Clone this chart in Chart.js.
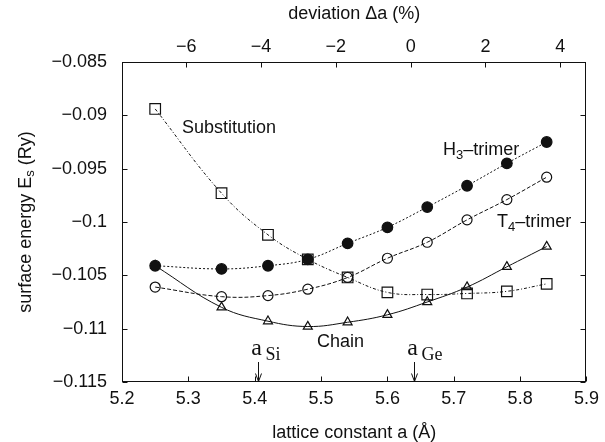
<!DOCTYPE html>
<html>
<head>
<meta charset="utf-8">
<script src="https://cdn.jsdelivr.net/npm/chart.js@4.4.1/dist/chart.umd.min.js"></script>
<style>
  html, body { margin: 0; padding: 0; background: #fff; }
  #wrap { position: relative; width: 605px; height: 442px; }
</style>
</head>
<body>
<div id="wrap"><canvas id="energyChart"></canvas></div>
<script>
// lattice constants (Å) of the calculated points
const latticeA = [5.25, 5.35, 5.42, 5.48, 5.54, 5.60, 5.66, 5.72, 5.78, 5.84];

// surface energies (Ry)
const substitution = [-0.0894, -0.0973, -0.1012, -0.1035, -0.1052, -0.1066, -0.1068, -0.1067, -0.1065, -0.1058];
const h3Trimer     = [-0.1041, -0.1044, -0.1041, -0.1035, -0.1020, -0.1005, -0.0986, -0.0966, -0.0945, -0.0925];
const t4Trimer     = [-0.1061, -0.1070, -0.1069, -0.1063, -0.1052, -0.1034, -0.1019, -0.0998, -0.0979, -0.0958];
const chain        = [-0.1041, -0.1080, -0.1093, -0.1098, -0.1094, -0.1087, -0.1075, -0.1061, -0.1042, -0.1023];

// marked lattice constants and reference for the deviation axis
const aSi = 5.405;
const aGe = 5.64;
const aRef = 5.635;

const SANS = "'Liberation Sans', Arial, sans-serif";
const SERIF = "'Liberation Serif', 'Times New Roman', serif";
const INK = '#111';

Chart.defaults.font.family = SANS;
Chart.defaults.font.size = 18;
Chart.defaults.color = INK;

function series(label, values, style, radius, filled, dash) {
    return {
        label: label,
        data: latticeA.map((a, i) => ({ x: a, y: values[i] })),
        borderColor: INK,
        borderWidth: 1,
        borderDash: dash,
        fill: false,
        tension: 0.4,
        pointStyle: style,
        pointRadius: radius,
        pointHoverRadius: radius,
        pointBorderWidth: 1.2,
        pointBorderColor: INK,
        pointBackgroundColor: filled ? INK : 'rgba(0,0,0,0)'
    };
}

const minus = s => String(s).replace('-', '\u2212');

// text with a subscript in the middle
function subText(ctx, x, y, base, sub, rest, size, subSize, drop) {
    ctx.font = size + 'px ' + SANS;
    ctx.fillText(base, x, y);
    x += ctx.measureText(base).width;
    ctx.font = subSize + 'px ' + SANS;
    ctx.fillText(sub, x, y + drop);
    x += ctx.measureText(sub).width;
    ctx.font = size + 'px ' + SANS;
    ctx.fillText(rest, x, y);
}

const decor = {
    id: 'decor',
    afterDraw(chart) {
        const { ctx, chartArea: ca, scales } = chart;
        const xs = scales.x, x2 = scales.x2, ys = scales.y;
        ctx.save();
        ctx.strokeStyle = INK;
        ctx.fillStyle = INK;
        ctx.lineWidth = 1;

        // frame
        const L = Math.round(ca.left) + 0.5, R = Math.round(ca.right) - 0.5;
        const T = Math.round(ca.top) + 0.5, B = Math.round(ca.bottom) - 0.5;
        ctx.strokeRect(L, T, R - L, B - T);

        // inward tick marks
        const tl = 5;
        ctx.beginPath();
        xs.ticks.forEach(t => {
            const p = Math.round(xs.getPixelForValue(t.value)) + 0.5;
            ctx.moveTo(p, B); ctx.lineTo(p, B - tl);
        });
        x2.ticks.forEach(t => {
            const p = Math.round(x2.getPixelForValue(t.value)) + 0.5;
            ctx.moveTo(p, T); ctx.lineTo(p, T + tl);
        });
        ys.ticks.forEach(t => {
            const p = Math.round(ys.getPixelForValue(t.value)) + 0.5;
            ctx.moveTo(L, p); ctx.lineTo(L + tl, p);
            ctx.moveTo(R, p); ctx.lineTo(R - tl, p);
        });
        ctx.stroke();

        // curve labels
        ctx.textAlign = 'left';
        ctx.textBaseline = 'alphabetic';
        ctx.font = '18px ' + SANS;
        ctx.fillText('Substitution', 182, 133);
        ctx.fillText('Chain', 317, 347);
        subText(ctx, 443, 155, 'H', '3', '\u2013trimer', 18, 13, 4);
        subText(ctx, 497, 227, 'T', '4', '\u2013trimer', 18, 13, 4);

        // lattice constant markers
        [[aSi, 'Si'], [aGe, 'Ge']].forEach(([a, el]) => {
            const px = Math.round(xs.getPixelForValue(a)) + 0.5;
            ctx.font = '24px ' + SERIF;
            ctx.textAlign = 'center';
            ctx.fillText('a', px - 2, 355);
            ctx.font = '18px ' + SERIF;
            ctx.textAlign = 'left';
            ctx.fillText(el, px + 7, 360);
            ctx.beginPath();
            ctx.moveTo(px, 362); ctx.lineTo(px, B);
            ctx.moveTo(px - 3, B - 8); ctx.lineTo(px, B); ctx.lineTo(px + 3, B - 8);
            ctx.stroke();
        });

        // y axis title with subscript
        ctx.save();
        ctx.translate(26, (ca.top + ca.bottom) / 2);
        ctx.rotate(-Math.PI / 2);
        ctx.textBaseline = 'middle';
        ctx.font = '18px ' + SANS;
        const p1 = 'surface energy E', p3 = ' (Ry)';
        const w1 = ctx.measureText(p1).width, w3 = ctx.measureText(p3).width;
        ctx.font = '13px ' + SANS;
        const w2 = ctx.measureText('s').width;
        const x0 = -(w1 + w2 + w3) / 2;
        ctx.textAlign = 'left';
        subText(ctx, x0, 0, p1, 's', p3, 18, 13, 4);
        ctx.restore();

        ctx.restore();
    }
};

const ctx = document.getElementById('energyChart').getContext('2d');
new Chart(ctx, {
    type: 'line',
    data: {
        datasets: [
            series('H3-trimer', h3Trimer, 'circle', 5.3, true, [2, 2]),
            series('T4-trimer', t4Trimer, 'circle', 5, false, [4, 2]),
            series('Substitution', substitution, 'rect', 7.5, false, [3, 2, 1, 2]),
            series('Chain', chain, 'triangle', 5.2, false, [])
        ]
    },
    options: {
        responsive: true,
        maintainAspectRatio: false,
        animation: false,
        layout: { padding: { left: 0, right: 15, top: 0, bottom: 0 } },
        plugins: {
            legend: { display: false },
            tooltip: { enabled: false }
        },
        scales: {
            x: {
                type: 'linear',
                position: 'bottom',
                min: 5.2,
                max: 5.9,
                grid: { display: false, drawTicks: false },
                border: { display: false },
                ticks: { stepSize: 0.1, padding: 6, callback: v => v.toFixed(1) },
                title: { display: true, text: 'lattice constant a (\u00c5)', padding: { top: 0, bottom: -2 } },
                afterFit: s => { s.height = 60; }
            },
            x2: {
                type: 'linear',
                position: 'top',
                min: (5.2 / aRef - 1) * 100,
                max: (5.9 / aRef - 1) * 100,
                grid: { display: false, drawTicks: false },
                border: { display: false },
                ticks: { stepSize: 2, includeBounds: false, padding: 4, callback: v => minus(Math.round(v)) },
                title: { display: true, text: 'deviation \u0394a (%)', padding: { top: 3, bottom: 0 } },
                afterFit: s => { s.height = 62; }
            },
            y: {
                type: 'linear',
                min: -0.115,
                max: -0.085,
                grid: { display: false, drawTicks: false },
                border: { display: false },
                ticks: { stepSize: 0.005, padding: 15, callback: v => minus(parseFloat(v.toFixed(3))) },
                afterFit: s => { s.width = 122; }
            }
        }
    },
    plugins: [decor]
});
</script>
</body>
</html>
